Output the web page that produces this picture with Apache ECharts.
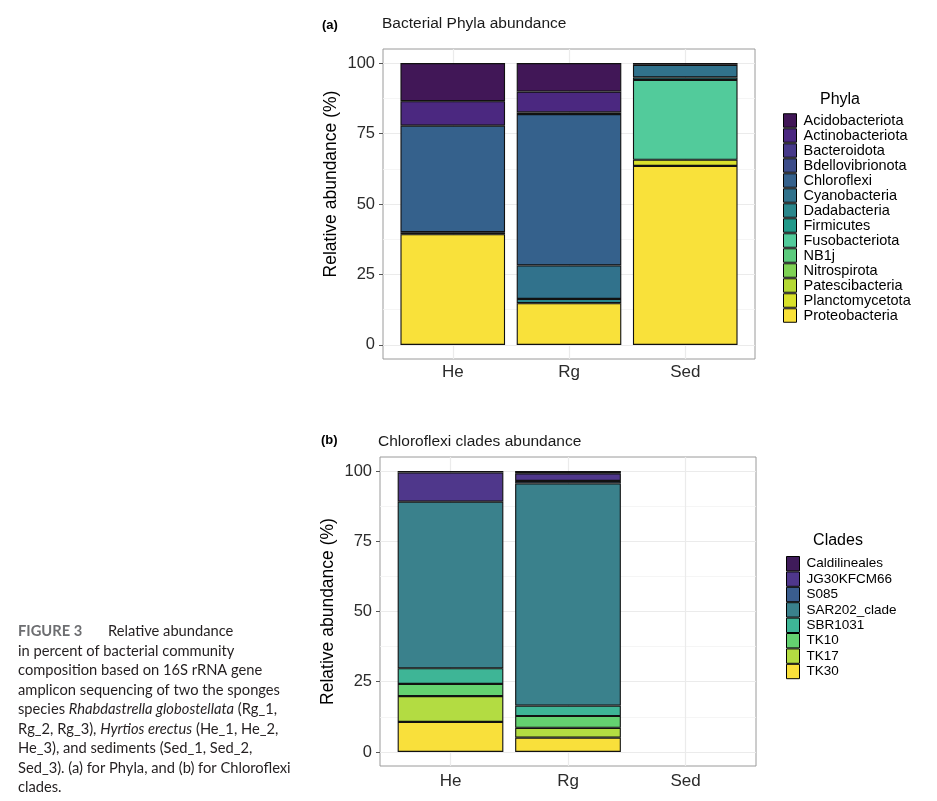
<!DOCTYPE html>
<html><head><meta charset="utf-8">
<script src="https://cdn.jsdelivr.net/npm/echarts@6/dist/echarts.min.js"></script>
<style>html,body{margin:0;padding:0;background:#fff}#c{width:937px;height:801px}</style>
</head><body><div id="c"></div>
<script>
// ---------- data ----------
const samples = ['He', 'Rg', 'Sed'];
const xTickValues = [1, 2, 3];
const yTickValues = [0, 25, 50, 75, 100];
const yMinorValues = [12.5, 37.5, 62.5, 87.5];

const phyla = ['Acidobacteriota', 'Actinobacteriota', 'Bacteroidota', 'Bdellovibrionota', 'Chloroflexi',
  'Cyanobacteria', 'Dadabacteria', 'Firmicutes', 'Fusobacteriota', 'NB1j', 'Nitrospirota',
  'Patescibacteria', 'Planctomycetota', 'Proteobacteria'];
const phylaColors = ['#411757', '#4b2880', '#473a8a', '#3d4d8a', '#35618c', '#31728c', '#2a878c',
  '#22998a', '#52cb9b', '#5ccb7e', '#7fd255', '#b5d935', '#d9e12b', '#f9e13a'];
const hePhyla  = [13.5, 8.7, 0,   0, 37.8, 0.7,  0,   0, 0,    0, 0, 0, 0,   39.3];
const rgPhyla  = [10.1, 7.4, 0.6, 0, 53.7, 11.9, 1.5, 0, 0,    0, 0, 0, 0,   14.8];
const sedPhyla = [0.6,  0,   0,   0, 0,    4.5,  0.9, 0, 28.3, 0, 0, 0, 2.2, 63.5];

const clades = ['Caldilineales', 'JG30KFCM66', 'S085', 'SAR202_clade', 'SBR1031', 'TK10', 'TK17', 'TK30'];
const cladeColors = ['#3f1b5a', '#4f378b', '#3a5d8e', '#3a818c', '#3eb596', '#64d170', '#b3dc42', '#f9e03b'];
const heClades  = [0.5, 10.4, 0,   59.3, 5.6, 4.3, 9.2, 10.7];
const rgClades  = [0.8, 2.7,  0.9, 79.1, 3.7, 4.2, 3.5, 5.1];
const sedClades = [0,   0,    0,   0,    0,   0,   0,   0];

// ---------- build ----------
const FONT = "'Liberation Sans', Arial, sans-serif";
const chart = echarts.init(document.getElementById('c'), null, {renderer: 'canvas'});

function stackSeries(names, colors, perSample, g, barWidth) {
  const out = [];
  for (let i = names.length - 1; i >= 0; i--) {
    out.push({
      name: names[i], type: 'bar', stack: 'st' + g, xAxisIndex: g, yAxisIndex: g,
      barWidth: barWidth, z: 2,
      encode: {x: 1, y: 0},
      itemStyle: {color: colors[i], borderColor: '#111', borderWidth: 1.1},
      emphasis: {disabled: true},
      // [value, sample position]
      data: perSample.map((vals, j) => [vals[i] ? vals[i] : null, xTickValues[j]])
    });
  }
  return out;
}
function gridSeries(g) {
  const data = [];
  yMinorValues.forEach(v => data.push({yAxis: v, lineStyle: {color: '#f3f3f3', width: 0.8, type: 'solid'}}));
  yTickValues.forEach(v => data.push({yAxis: v, lineStyle: {color: '#ebebeb', width: 1.2, type: 'solid'}}));
  xTickValues.forEach(v => data.push({xAxis: v, lineStyle: {color: '#ebebeb', width: 1.2, type: 'solid'}}));
  return {
    type: 'line', xAxisIndex: g, yAxisIndex: g, data: [], silent: true,
    markLine: {silent: true, z: 1, symbol: ['none', 'none'], label: {show: false}, animation: false,
      emphasis: {disabled: true}, data: data}
  };
}
function xAxis(g) {
  return {
    type: 'value', gridIndex: g, min: 0.4, max: 3.6,
    axisLine: {show: false}, splitLine: {show: false},
    axisTick: {show: true, length: 4, customValues: xTickValues, lineStyle: {color: '#555', width: 1}},
    axisLabel: {customValues: xTickValues, margin: g ? 7 : 5, fontSize: 17, color: '#2b2b2b', fontFamily: FONT,
      formatter: v => samples[Math.round(v) - 1]}
  };
}
function yAxis(g, shift) {
  return {
    type: 'value', gridIndex: g, min: -5, max: 105,
    axisLine: {show: false}, splitLine: {show: false},
    axisTick: {show: true, length: 4, customValues: yTickValues, lineStyle: {color: '#555', width: 1}},
    axisLabel: {customValues: yTickValues, margin: 8, fontSize: 16.5, color: '#2b2b2b', fontFamily: FONT},
    name: 'Relative abundance (%)', nameLocation: 'middle', nameGap: 43,
    nameTextStyle: {fontSize: 17.5, color: '#000', fontFamily: FONT, padding: [0, 0, 0, shift]}
  };
}
function legend(names, left, top, itemH, fs) {
  return {
    data: names, orient: 'vertical', left: left, top: top, padding: 0, icon: 'rect',
    itemWidth: 13, itemHeight: itemH, itemGap: 0, selectedMode: false,
    itemStyle: {borderColor: '#000', borderWidth: 1},
    textStyle: {fontSize: fs, lineHeight: itemH - 0.5, color: '#000', fontFamily: FONT, padding: [0, 0, 0, 2]}
  };
}
function txt(x, y, s, fs, extra) {
  return {type: 'text', x: x, y: y, silent: true,
    style: Object.assign({text: s, fontSize: fs, fontFamily: FONT, fill: '#000', verticalAlign: 'middle', align: 'left'}, extra || {})};
}
const CAP = "Lato, 'Open Sans', sans-serif";
const CFS = 14.7;
const capRich = {
  n: {fontFamily: CAP, fontSize: CFS, fill: '#231f20'},
  i: {fontFamily: CAP, fontSize: CFS, fill: '#231f20', fontStyle: 'italic'}
};
function cap(y, s) {
  return {type: 'text', x: 18, y: y, silent: true,
    style: {text: s, rich: capRich, fontFamily: CAP, fontSize: CFS, fill: '#231f20', verticalAlign: 'middle', align: 'left'}};
}

const option = {
  animation: false,
  backgroundColor: '#fff',
  grid: [
    {left: 383, top: 49, width: 372, height: 310, show: true, borderColor: '#9a9a9a', borderWidth: 1, backgroundColor: 'transparent', containLabel: false},
    {left: 380, top: 457, width: 376, height: 309, show: true, borderColor: '#9a9a9a', borderWidth: 1, backgroundColor: 'transparent', containLabel: false}
  ],
  xAxis: [xAxis(0), xAxis(1)],
  yAxis: [yAxis(0, 40), yAxis(1, 0)],
  legend: [legend(phyla, 783, 113, 13.5, 14.5), legend(clades, 786, 556, 14.4, 13.5)],
  series: [gridSeries(0), gridSeries(1)]
    .concat(stackSeries(phyla, phylaColors, [hePhyla, rgPhyla, sedPhyla], 0, 104.6))
    .concat(stackSeries(clades, cladeColors, [heClades, rgClades, sedClades], 1, 105.7)),
  graphic: [
    txt(322, 25, '(a)', 13, {fontWeight: 'bold'}),
    txt(382, 24, 'Bacterial Phyla abundance', 15.5, {fill: '#1a1a1a'}),
    txt(840, 100, 'Phyla', 16, {align: 'center'}),
    txt(321, 440, '(b)', 13, {fontWeight: 'bold'}),
    txt(378, 442, 'Chloroflexi clades abundance', 15.5, {fill: '#1a1a1a'}),
    txt(838, 541, 'Clades', 16, {align: 'center'}),
    {type: 'text', x: 18, y: 631, silent: true,
      style: {text: 'FIGURE 3', fontFamily: CAP, fontSize: CFS, fontWeight: 'bold', fill: '#6d6e71', verticalAlign: 'middle'}},
    {type: 'text', x: 108, y: 631, silent: true,
      style: {text: 'Relative abundance', fontFamily: CAP, fontSize: CFS, fill: '#231f20', verticalAlign: 'middle'}},
    cap(651, '{n|in percent of bacterial community}'),
    cap(670, '{n|composition based on 16S rRNA gene}'),
    cap(690, '{n|amplicon sequencing of two the sponges}'),
    cap(709, '{n|species }{i|Rhabdastrella globostellata}{n| (Rg_1,}'),
    cap(729, '{n|Rg_2, Rg_3), }{i|Hyrtios erectus}{n| (He_1, He_2,}'),
    cap(748, '{n|He_3), and sediments (Sed_1, Sed_2,}'),
    cap(768, '{n|Sed_3). (a) for Phyla, and (b) for Chloroflexi}'),
    cap(787, '{n|clades.}')
  ]
};
chart.setOption(option);
</script>
</body></html>
